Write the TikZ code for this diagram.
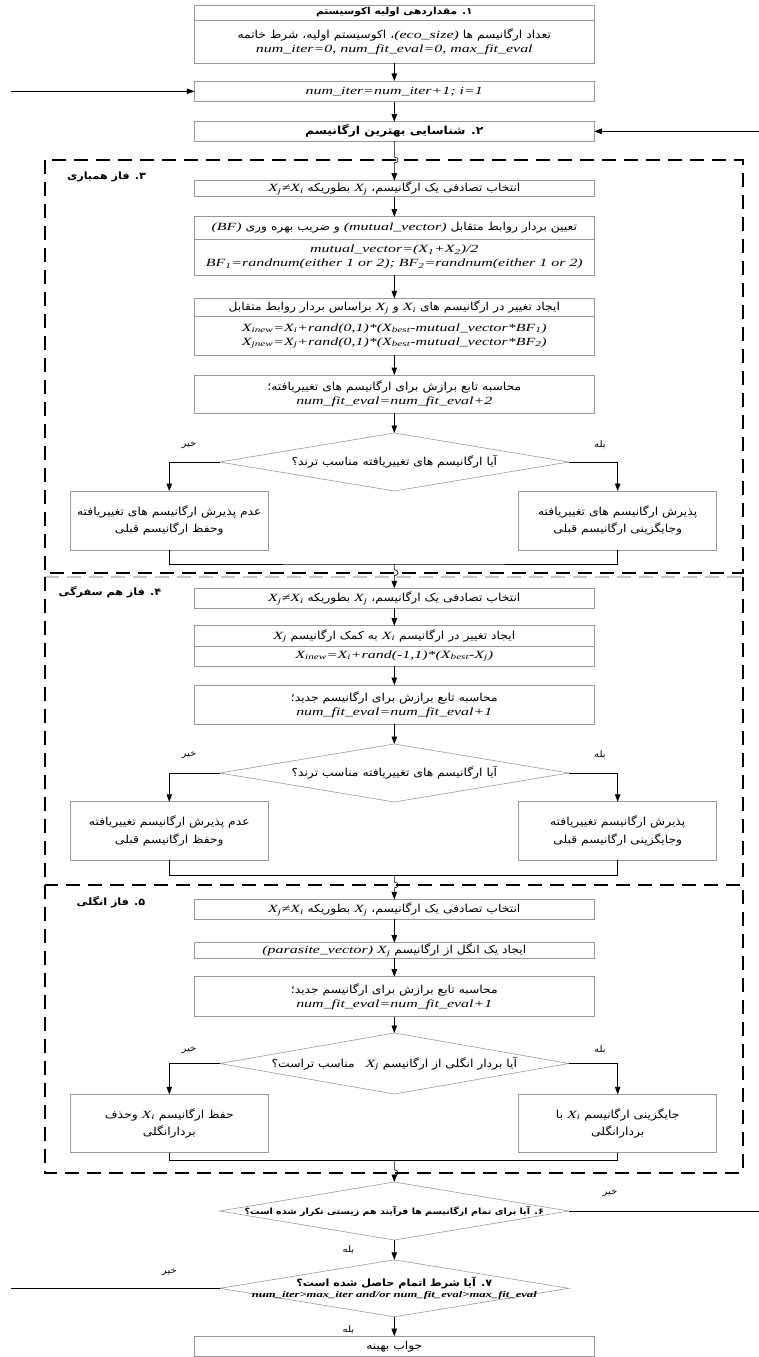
\documentclass[tikz,border=0pt]{standalone}
\usepackage{fontspec}
\setmainfont{Liberation Serif}[FakeStretch=1.45]
\newfontfamily\fa[Script=Arabic,FakeStretch=1.12]{DejaVu Sans}
\usetikzlibrary{shapes.geometric,arrows.meta}
\TeXXeTstate=1
\newcommand\fatext[1]{{\fa\beginR #1\endR}}
\newcommand\lat[1]{\beginL{\rmfamily\itshape #1}\endL}
\newcommand\sbs[1]{\textsubscript{#1}}
\newcommand\dtext[1]{\makebox[0pt]{#1}}

\begin{document}
\begin{tikzpicture}
    [x=1pt,y=-1pt,line width=0.6pt,>={Triangle[length=7.5pt,width=5.5pt]},
     box/.style={draw=gray!80,minimum width=400pt,inner sep=0pt,outer sep=0pt,align=center,font=\fontsize{11}{14}\selectfont},
     sidebox/.style={box,minimum width=198pt,font=\fontsize{11}{17.5}\selectfont},
     decision/.style={diamond,draw=gray!80,aspect=6,minimum width=349pt,inner sep=0pt,outer sep=0pt,align=center,font=\fontsize{11}{12}\selectfont},
     frame/.style={line width=1.6pt,dash pattern=on 14pt off 8pt},
     lab/.style={inner sep=0pt,font=\fontsize{9}{10}\selectfont},
     phaselab/.style={inner sep=0pt,font=\fontsize{10}{12}\selectfont}]
    \useasboundingbox (0,0) rectangle (759,1357);
    % phase frames
    \draw [frame] (45,160) rectangle (743,572.7);
    \draw [frame,gray!45] (45,577) -- (743,577);
    \draw [frame] (45,577) -- (45,885);
    \draw [frame] (743,577) -- (743,885);
    \draw [frame] (45,885) rectangle (743,1172.7);
    \node (ph3) at (106.5,176.7) [phaselab] {\fatext{\bfseries ۳. فاز همیاری}};
    \node (ph4) at (110,592.3) [phaselab] {\fatext{\bfseries ۴. فاز هم سفرگی}};
    \node (ph5) at (111,901.7) [phaselab] {\fatext{\bfseries ۵. فاز انگلی}};
    % initialisation
    \node (init)  at (394.3,12.5)  [box,minimum height=15pt,font=\fontsize{9.5}{11}\selectfont] {\fatext{\bfseries ۱. مقداردهی اولیه اکوسیستم}};
    \node (initb) at (394.3,41.5)  [box,minimum height=43pt] {\fatext{تعداد ارگانیسم ها \lat{(eco\_size)}، اکوسیستم اولیه، شرط خاتمه}\\ \lat{num\_iter=0, num\_fit\_eval=0, max\_fit\_eval}};
    \node (iter)  at (394.3,91.3)  [box,minimum height=20.7pt] {\lat{num\_iter=num\_iter+1; i=1}};
    \node (best)  at (394.3,131.3) [box,minimum height=19.3pt] {\fatext{\bfseries ۲. شناسایی بهترین ارگانیسم}};
    % mutualism
    \node (mselect) at (394.3,188.7) [box,minimum height=16pt] {\fatext{انتخاب تصادفی یک ارگانیسم، \lat{X\sbs{j}} بطوریکه \lat{X\sbs{j}≠X\sbs{i}}}};
    \node (mvec)  at (394.3,228)   [box,minimum height=22.6pt] {\fatext{تعیین بردار روابط متقابل \lat{(mutual\_vector)} و ضریب بهره وری \lat{(BF)}}};
    \node (mvecb) at (394.3,257.2) [box,minimum height=35.7pt] {\lat{mutual\_vector=(X\sbs{1}+X\sbs{2})/2}\\ \lat{BF\sbs{1}=randnum(either 1 or 2); BF\sbs{2}=randnum(either 1 or 2)}};
    \node (mmod)  at (394.3,307.5) [box,minimum height=18.4pt] {\fatext{ایجاد تغییر در ارگانیسم های \lat{X\sbs{i}} و \lat{X\sbs{j}} براساس بردار روابط متقابل}};
    \node (mmodb) at (394.3,335.9) [box,minimum height=38.3pt] {\lat{X\sbs{inew}=X\sbs{i}+rand(0,1)*(X\sbs{best}-mutual\_vector*BF\sbs{1})}\\ \lat{X\sbs{jnew}=X\sbs{j}+rand(0,1)*(X\sbs{best}-mutual\_vector*BF\sbs{2})}};
    \node (mfit)  at (394.3,394.2) [box,minimum height=38.3pt] {\fatext{محاسبه تابع برازش برای ارگانیسم های تغییریافته؛}\\ \lat{num\_fit\_eval=num\_fit\_eval+2}};
    \node (mtest) at (394.3,462)   [decision,minimum height=58pt] {\dtext{\fatext{آیا ارگانیسم های تغییریافته مناسب ترند؟}}};
    \node (mno)   at (169.3,520.5) [sidebox,minimum height=59pt] {\fatext{عدم پذیرش ارگانیسم های تغییریافته}\\ \fatext{وحفظ ارگانیسم قبلی}};
    \node (myes)  at (617.7,520.5) [sidebox,minimum height=59pt] {\fatext{پذیرش ارگانیسم های تغییریافته}\\ \fatext{وجایگزینی ارگانیسم قبلی}};
    % commensalism
    \node (cselect) at (394.3,598.3) [box,minimum height=20pt] {\fatext{انتخاب تصادفی یک ارگانیسم، \lat{X\sbs{j}} بطوریکه \lat{X\sbs{j}≠X\sbs{i}}}};
    \node (cmod)  at (394.3,635.8) [box,minimum height=20.3pt] {\fatext{ایجاد تغییر در ارگانیسم \lat{X\sbs{i}} به کمک ارگانیسم \lat{X\sbs{j}}}};
    \node (cmodb) at (394.3,656)   [box,minimum height=20pt] {\lat{X\sbs{inew}=X\sbs{i}+rand(-1,1)*(X\sbs{best}-X\sbs{j})}};
    \node (cfit)  at (394.3,704.7) [box,minimum height=39.3pt] {\fatext{محاسبه تابع برازش برای ارگانیسم جدید؛}\\ \lat{num\_fit\_eval=num\_fit\_eval+1}};
    \node (ctest) at (394.3,773)   [decision,minimum height=58pt] {\dtext{\fatext{آیا ارگانیسم های تغییریافته مناسب ترند؟}}};
    \node (cno)   at (169.3,830.9) [sidebox,minimum height=58.3pt] {\fatext{عدم پذیرش ارگانیسم تغییریافته}\\ \fatext{وحفظ ارگانیسم قبلی}};
    \node (cyes)  at (617.7,830.9) [sidebox,minimum height=58.3pt] {\fatext{پذیرش ارگانیسم تغییریافته}\\ \fatext{وجایگزینی ارگانیسم قبلی}};
    % parasitism
    \node (pselect) at (394.3,909.2) [box,minimum height=19.8pt] {\fatext{انتخاب تصادفی یک ارگانیسم، \lat{X\sbs{j}} بطوریکه \lat{X\sbs{j}≠X\sbs{i}}}};
    \node (pvec)  at (394.3,950.5) [box,minimum height=15.6pt] {\fatext{ایجاد یک انگل از ارگانیسم \lat{X\sbs{j}} \lat{(parasite\_vector)}}};
    \node (pfit)  at (394.3,996.7) [box,minimum height=40pt] {\fatext{محاسبه تابع برازش برای ارگانیسم جدید؛}\\ \lat{num\_fit\_eval=num\_fit\_eval+1}};
    \node (ptest) at (394.3,1063.5) [decision,minimum height=61pt] {\dtext{\fatext{آیا بردار انگلی از ارگانیسم \lat{X\sbs{j}}\quad مناسب تراست؟}}};
    \node (pno)   at (169.3,1123.5) [sidebox,minimum height=58.4pt] {\fatext{حفظ ارگانیسم \lat{X\sbs{i}} وحذف}\\ \fatext{بردارانگلی}};
    \node (pyes)  at (617.7,1123.5) [sidebox,minimum height=58.4pt] {\fatext{جایگزینی ارگانیسم \lat{X\sbs{i}} با}\\ \fatext{بردارانگلی}};
    % termination
    \node (allorg) at (394.3,1211) [decision,minimum height=58pt,font=\fontsize{8.5}{10}\selectfont] {\dtext{\fatext{\bfseries ۶. آیا برای تمام ارگانیسم ها فرآیند هم زیستی تکرار شده است؟}}};
    \node (stop)  at (394.3,1288.3) [decision,minimum height=57pt,font=\fontsize{8.7}{11.5}\selectfont] {\dtext{\fontsize{10}{12}\selectfont\fatext{\bfseries ۷. آیا شرط اتمام حاصل شده است؟}}\\ \dtext{\lat{\bfseries num\_iter>max\_iter and/or num\_fit\_eval>max\_fit\_eval}}};
    \node (opt)   at (394.3,1346.3) [box,minimum height=20.5pt] {\fatext{جواب بهینه}};
    % yes / no labels
    \node (mnolab)  at (189,445)    [lab] {\fatext{خیر}};
    \node (myeslab) at (600,445)    [lab] {\fatext{بله}};
    \node (cnolab)  at (189,755)    [lab] {\fatext{خیر}};
    \node (cyeslab) at (600,755)    [lab] {\fatext{بله}};
    \node (pnolab)  at (189,1050)   [lab] {\fatext{خیر}};
    \node (pyeslab) at (600,1050)   [lab] {\fatext{بله}};
    \node (anolab)  at (610,1193.3) [lab] {\fatext{خیر}};
    \node (ayeslab) at (348.5,1250) [lab] {\fatext{بله}};
    \node (snolab)  at (169.4,1271.7) [lab] {\fatext{خیر}};
    \node (syeslab) at (348.5,1330) [lab] {\fatext{بله}};
    % loose ends and joins
    \coordinate (loopin)   at (10.6,91.3);
    \coordinate (loopin2)  at (759,131.3);
    \coordinate (loopout)  at (759,1211);
    \coordinate (loopout2) at (10.6,1288.3);
    \coordinate (mjoin) at (394.3,564);
    \coordinate (cjoin) at (394.3,875);
    \coordinate (pjoin) at (394.3,1160.7);
    % connectors
    \draw [->] (initb) -- (iter);
    \draw [->] (loopin) -- (iter);
    \draw [->] (iter) -- (best);
    \draw [->] (loopin2) -- (best);
    \draw [->] (best) -- (394.3,157) .. controls +(5,0) and +(5,0) .. (394.3,163) -- (mselect);
    \draw [->] (mselect) -- (mvec);
    \draw [->] (mvecb) -- (mmod);
    \draw [->] (mmodb) -- (mfit);
    \draw [->] (mfit) -- (mtest);
    \draw [->] (mtest.west) -| (mno.north);
    \draw [->] (mtest.east) -| (myes.north);
    \draw (mno.south) |- (mjoin) -| (myes.south);
    \draw [->] (mjoin) -- (394.3,569.7) .. controls +(5,0) and +(5,0) .. (394.3,575.7) -- (cselect);
    \draw [->] (cselect) -- (cmod);
    \draw [->] (cmodb) -- (cfit);
    \draw [->] (cfit) -- (ctest);
    \draw [->] (ctest.west) -| (cno.north);
    \draw [->] (ctest.east) -| (cyes.north);
    \draw (cno.south) |- (cjoin) -| (cyes.south);
    \draw [->] (cjoin) -- (394.3,882) .. controls +(5,0) and +(5,0) .. (394.3,888) -- (pselect);
    \draw [->] (pselect) -- (pvec);
    \draw [->] (pvec) -- (pfit);
    \draw [->] (pfit) -- (ptest);
    \draw [->] (ptest.west) -| (pno.north);
    \draw [->] (ptest.east) -| (pyes.north);
    \draw (pno.south) |- (pjoin) -| (pyes.south);
    \draw [->] (pjoin) -- (394.3,1169.7) .. controls +(5,0) and +(5,0) .. (394.3,1175.7) -- (allorg);
    \draw (allorg.east) -- (loopout);
    \draw [->] (allorg) -- (stop);
    \draw (stop.west) -- (loopout2);
    \draw [->] (stop) -- (opt);
\end{tikzpicture}
\end{document}
